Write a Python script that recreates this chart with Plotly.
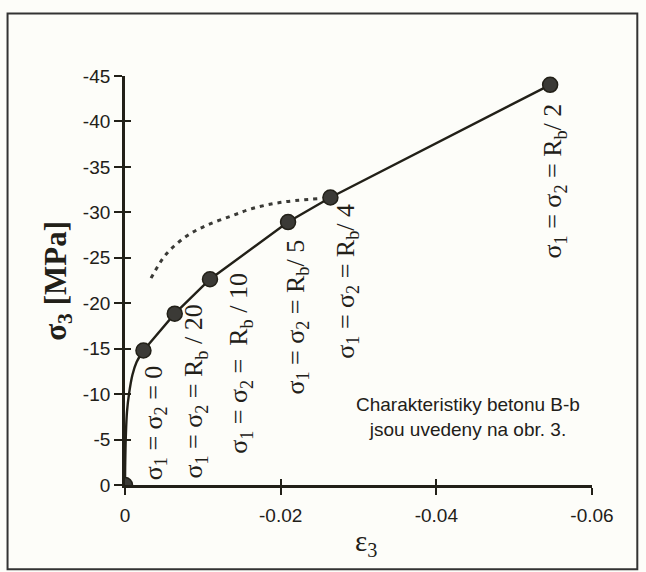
import plotly.graph_objects as go

# Data (strain eps3, stress sigma3 in MPa)
pts_eps = [0.0, -0.00237, -0.00639, -0.01092, -0.02095, -0.02639, -0.05462]
pts_sig = [0.0, -14.8, -18.85, -22.64, -28.93, -31.63, -44.03]

# initial curve from origin to first point
curve_eps = [0.0, -0.00003, -0.0001, -0.00026, -0.00053, -0.00095, -0.00148, -0.00237]
curve_sig = [0.0, -2.5, -5.2, -8.1, -10.1, -12.1, -13.5, -14.8]

# dotted curve
dot_eps = [-0.00335, -0.00528, -0.00792, -0.01055, -0.01372, -0.01636, -0.02005, -0.0248]
dot_sig = [-22.76, -25.38, -27.39, -28.6, -29.61, -30.42, -31.1, -31.5]

labels = [
    "σ<sub>1</sub> = σ<sub>2</sub> = 0",
    "σ<sub>1</sub> = σ<sub>2</sub> = R<sub>b</sub> / 20",
    "σ<sub>1</sub> = σ<sub>2</sub> =  R<sub>b</sub> / 10",
    "σ<sub>1</sub> = σ<sub>2</sub> = R<sub>b</sub>/ 5",
    "σ<sub>1</sub> = σ<sub>2</sub> = R<sub>b</sub>/ 4",
    "σ<sub>1</sub> = σ<sub>2</sub> = R<sub>b</sub>/ 2",
]
label_x = [-0.0038, -0.00898, -0.01478, -0.02206, -0.0285, -0.05516]
label_y = [-6.86, -10.27, -13.34, -18.5, -22.46, -33.44]

x_ticks = [0, -0.02, -0.04, -0.06]
x_ticktext = ["0", "-0.02", "-0.04", "-0.06"]
y_ticks = [0, -5, -10, -15, -20, -25, -30, -35, -40, -45]
y_ticktext = ["0", "-5", "-10", "-15", "-20", "-25", "-30", "-35", "-40", "-45"]

INK = "#222018"
BG = "#fdfdf9"

fig = go.Figure()

# dotted curve
fig.add_trace(go.Scatter(x=dot_eps, y=dot_sig, mode="lines",
                         line=dict(color="#3a3a36", width=3, dash="4px,5px", shape="spline"),
                         showlegend=False, hoverinfo="skip"))
# initial curve
fig.add_trace(go.Scatter(x=curve_eps, y=curve_sig, mode="lines", line=dict(color=INK, width=2.4, shape="spline"),
                         showlegend=False, hoverinfo="skip"))
marker = dict(size=15, color="#3b3a36", line=dict(color=INK, width=1.5))
# main polyline with markers
fig.add_trace(go.Scatter(x=pts_eps[1:], y=pts_sig[1:], mode="lines+markers",
                         line=dict(color=INK, width=2.4), marker=marker,
                         showlegend=False, hoverinfo="skip"))

tickfont = dict(family="Liberation Sans, Arial", size=19, color=INK)

fig.update_layout(
    width=646, height=572, autosize=False,
    margin=dict(l=124.5, r=54.3, t=75.7, b=86.5),
    paper_bgcolor=BG, plot_bgcolor=BG,
    xaxis=dict(range=[0, -0.06], tickvals=x_ticks, ticktext=x_ticktext, showgrid=False, zeroline=False,
               showline=True, linecolor=INK, linewidth=2.8, ticks="outside", ticklen=7, tickwidth=2,
               tickcolor=INK, tickfont=tickfont, ticklabelstandoff=4),
    yaxis=dict(range=[0, -45], tickvals=y_ticks, ticktext=y_ticktext, showgrid=False, zeroline=False,
               showline=True, linecolor=INK, linewidth=2.8, ticks="outside", ticklen=8, tickwidth=2,
               tickcolor=INK, tickfont=tickfont),
    xaxis2=dict(range=[0, -0.06], tickvals=x_ticks, overlaying="x", matches="x", showticklabels=False,
                showgrid=False, zeroline=False, ticks="inside", ticklen=6, tickwidth=2, tickcolor=INK),
    yaxis2=dict(range=[0, -45], tickvals=y_ticks, overlaying="y", matches="y", showticklabels=False,
                showgrid=False, zeroline=False, ticks="inside", ticklen=6, tickwidth=2, tickcolor=INK),
)
# origin marker drawn on the overlay axes (also activates them)
fig.add_trace(go.Scatter(x=pts_eps[:1], y=pts_sig[:1], xaxis="x2", yaxis="y2", mode="markers",
                         marker=marker, showlegend=False, hoverinfo="skip"))

serif = "Liberation Serif, Times New Roman, serif"
for t, lx, ly in zip(labels, label_x, label_y):
    fig.add_annotation(x=lx, y=ly, xref="x", yref="y", text=t, showarrow=False, textangle=-90,
                       xanchor="center", yanchor="middle",
                       font=dict(family=serif, size=26, color=INK))

fig.add_annotation(x=-0.04407, y=-7.52, xref="x", yref="y",
                   text="Charakteristiky betonu B-b<br>jsou uvedeny na obr. 3.",
                   showarrow=False, align="center", xanchor="center", yanchor="middle",
                   font=dict(family="Liberation Sans, Arial", size=19, color=INK))

fig.add_annotation(x=-0.145, y=0.50, xref="paper", yref="paper", text="<b>σ<sub>3</sub> [MPa]</b>",
                   showarrow=False, textangle=-90, xanchor="center", yanchor="middle",
                   font=dict(family=serif, size=31, color=INK))
fig.add_annotation(x=0.515, y=-0.143, xref="paper", yref="paper", text="ε<sub>3</sub>",
                   showarrow=False, xanchor="center", yanchor="middle",
                   font=dict(family=serif, size=29, color=INK))

# outer frame
fig.add_shape(type="rect", xref="paper", yref="paper", x0=-0.2515, x1=1.097, y0=-0.206, y1=1.153,
              line=dict(color="#333", width=2))

fig.write_html("out.html")
